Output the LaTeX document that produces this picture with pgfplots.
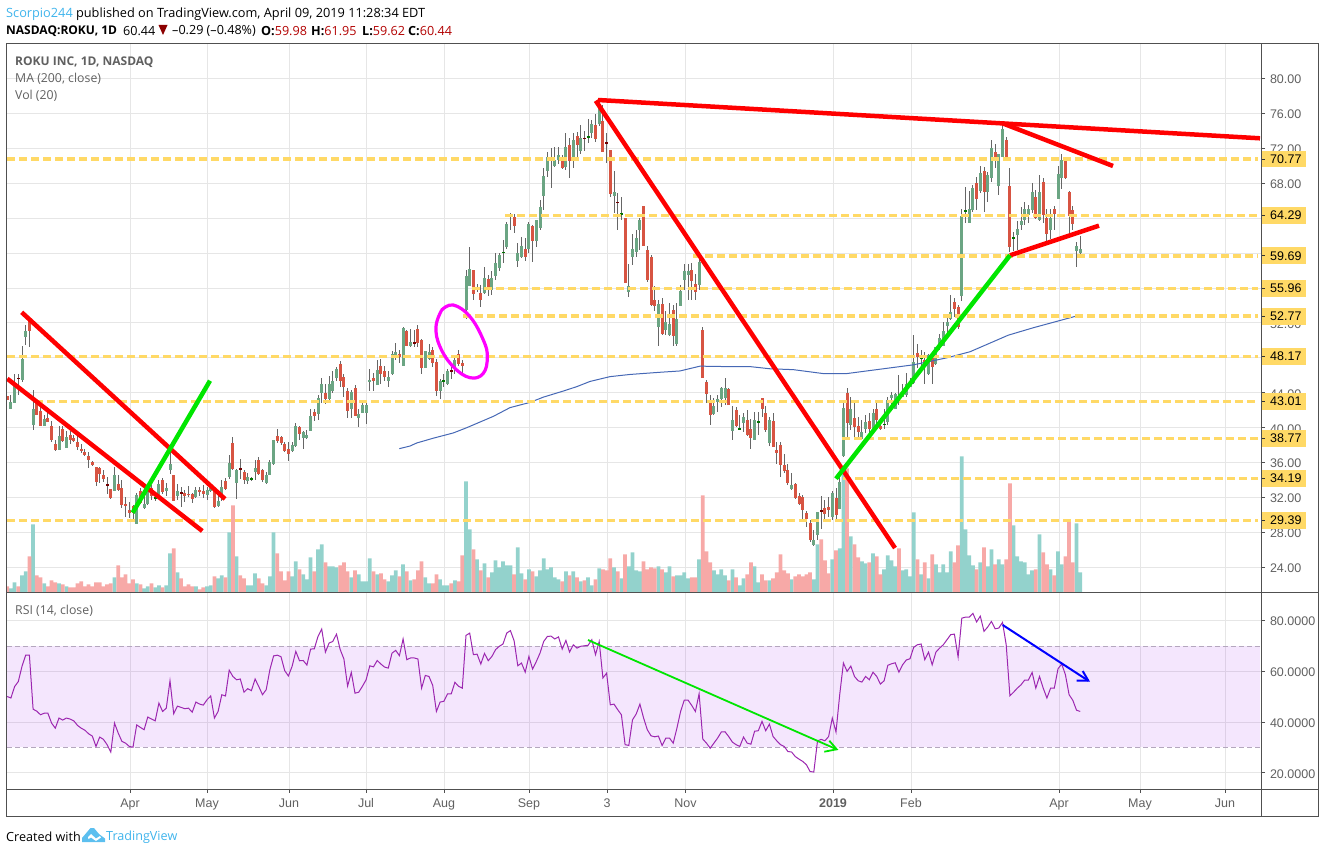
\documentclass[border=0pt]{standalone}
\usepackage{fontspec}
\usepackage{pgfplots}
\usepackage{pgfplotstable}
\pgfplotsset{compat=1.18}
\setmainfont{Liberation Sans}
\newfontfamily\ui{Open Sans}
\definecolor{gridc}{HTML}{E6E6E6}
\definecolor{framec}{HTML}{505050}
\definecolor{txtc}{HTML}{606060}
\definecolor{upc}{HTML}{6BA583}
\definecolor{dnc}{HTML}{D75442}
\definecolor{wick}{HTML}{666666}
\definecolor{upv}{HTML}{93D2CC}
\definecolor{dnv}{HTML}{F7A9A7}
\definecolor{yel}{HTML}{FFD966}
\definecolor{bandc}{rgb}{0.64,0.18,0.93}
\definecolor{rsic}{HTML}{9C27B0}
\definecolor{tvblue}{HTML}{3FB4EC}
\definecolor{mag}{HTML}{FF00FF}
\definecolor{pure red}{HTML}{FF0000}
\definecolor{pure green}{HTML}{00E600}
\definecolor{pure blue}{HTML}{0000FF}
\pgfplotstableread{
i o h l c v r
0 43.6 43.6 43.2 43.2 6 50.1
1 42.1 43.7 42.1 43.0 4 49.5
2 42.8 46.1 42.8 44.8 10 54
3 45.7 46.1 43.8 45.6 6 56
4 45.5 49.4 45.2 47.9 17 62
5 50.4 51.8 49.5 51.1 21 66.4
6 52.3 52.3 49.2 51.05 36 66.4
7 40.3 44.3 39.7 42.1 68 45.1
8 42.8 43.1 41.4 41.4 17 44.3
9 41.9 42.4 40.2 40.2 15 42.9
10 40.2 41.4 40.2 41.0 9 43.5
11 41.1 41.7 40.6 40.6 6 43.5
12 40.2 40.8 38.4 38.6 12 39.6
13 38.1 38.55 37.3 37.4 10 37.6
14 37.5 40.2 37.4 39 9 41.6
15 39.8 40.2 38.4 38.5 8 40.8
16 37.7 39.6 37.7 38.9 6 41.6
17 39.2 39.6 38.1 38.6 5 41.2
18 38.8 39.2 38.4 38.5 5 40.5
19 38.4 39.1 37.5 37.75 9 38.7
20 37.6 38.1 37.1 37.3 11 37.6
21 37.2 37.55 36.8 36.9 6 36.8
22 36.8 37.2 35.4 36.3 8 35.4
23 36.05 36.2 35.6 35.7 6 34.5
24 35.5 35.55 33.3 33.75 10 30.4
25 35.4 35.5 33.7 34.7 10 34.1
26 34.55 35.1 33.8 34.1 6 33.2
27 33.5 34.3 32.4 33.45 8 31.1
28 33 33 31.8 31.9 9 28.2
29 32.8 35.5 32.7 34.55 15 39.6
30 33.5 34.55 32.8 32.85 27 35.7
31 33.05 34 30.75 31.2 15 32.4
32 31.3 32.05 29.8 31 18 31.7
33 30.55 31.5 29.7 30.25 9 30.4
34 31 31.1 29.6 30.25 13 30.1
35 29 32.55 28.95 32.3 9 38.9
36 32.8 33.1 31.3 31.4 8 37.9
37 30.85 32.85 30.7 31.3 4 37
38 31.25 33.2 31.2 32.85 6 42
39 33.1 33.4 31.7 32.2 9 41.2
40 31.9 32.45 31.6 32 5 40.5
41 32.3 34 32.1 33.6 7 47.5
42 34 34.2 32.45 32.6 5 44.2
43 32.7 33.7 32.15 33.1 7 45.5
44 35.2 37.4 34.65 35.9 39 56.3
45 34.55 34.55 31.6 31.6 44 43.3
46 32.15 33.6 31.7 32.7 20 46.3
47 32.6 33.2 30.95 32.55 14 45.8
48 32.55 32.9 31.5 32.15 6 45.3
49 32.45 33.3 32.1 32.3 8 45.5
50 32.4 32.55 31.4 31.85 6 43.9
51 32.1 33.2 31.9 32.9 6 47.9
52 32.9 33.2 32.2 32.6 3 47.1
53 32.7 33.4 32 32.4 5 46.7
54 32.25 33.2 31.7 32.9 6 48.8
55 32.75 33.7 32.65 33.15 7 50.3
56 32.9 33 30.85 30.95 16 41.6
57 31 32.65 30.95 31.6 14 44.2
58 32.05 34 31.6 33.2 17 50.8
59 33.85 34.25 32.85 32.95 15 50.3
60 34.35 36.9 34.15 36 60 60.5
61 38.3 38.95 35.15 35.3 87 58
62 33.65 35.3 31.8 35.1 36 56.7
63 35.35 36.45 34.15 35.25 17 57
64 34.95 35.1 33.6 34 14 51.8
65 33.9 34.8 33.6 34.35 7 53.2
66 34.05 34.4 33.9 34.15 7 52.4
67 34.9 36.25 34 35.35 19 57
68 36.3 36.65 34.55 34.75 14 54
69 35.1 35.3 33.8 34 9 50.8
70 33.7 34.95 33.6 34.55 7 52.8
71 34.55 36.3 34.55 36.05 16 60.7
72 35.9 38.55 35.7 38.55 60 66.1
73 39.1 39.9 38.2 38.45 39 66.4
74 38.9 39.1 38 38.3 21 65.8
75 38.15 38.35 37.2 37.35 12 60.3
76 37.55 38.35 36.15 37 21 58.2
77 37.35 38.35 37.2 38 16 62
78 37.9 40.55 37.8 40.25 31 67.9
79 40.05 40.25 38.6 39.3 23 64.2
80 38.8 39.6 37.6 39.5 18 64.3
81 38.85 39.7 38.75 39.2 13 62.5
82 39.6 42.15 39.6 41.35 35 68.8
83 41.8 42.15 40.75 41.3 21 68.9
84 41.6 43.8 40.85 43.4 43 73.8
85 44 45.7 42.8 45 48 76.7
86 44 45 42.75 43.25 30 67.6
87 43.25 45.9 43.1 44.95 26 71.2
88 44.15 46.45 44 45.3 26 71.8
89 45.7 46.95 45.4 46.75 25 74.7
90 47.25 47.6 44.7 45.3 27 68.6
91 45.85 46.15 43.5 44.65 30 64.9
92 44.15 44.55 41.15 41.9 21 54.2
93 42.1 44.35 41.15 44.05 15 59.6
94 44.55 44.85 41.35 41.35 22 51.4
95 41.1 42.15 40.1 41.6 18 51.8
96 41.7 43.1 41.7 42.6 11 54.1
97 41.7 43.1 40.45 42.65 11 56.7
98 45.2 46.75 44.2 45.5 34 62.2
99 45.7 46.25 44.25 45.3 21 61.8
100 44.85 47.7 44.85 46.65 18 64.3
101 47.1 47.9 45 46.2 19 62.9
102 46.45 47.1 45.3 45.85 13 61.7
103 45.4 46.55 44.65 45.85 11 61.3
104 46.1 48.75 46 48.4 17 67.2
105 48.25 49.7 47.75 48.7 22 68.3
106 48.45 48.85 47.4 48.15 16 66.2
107 47.1 51.5 47.1 51.4 28 72.8
108 51.1 51.2 49.4 49.4 21 64.6
109 49.35 51.3 49.3 49.8 12 65.3
110 49.75 51.2 49.2 49.7 13 65.3
111 51.25 51.8 49.2 49.65 22 64.9
112 50 50.2 46.1 46.8 31 53.4
113 46.85 48.8 46.8 48.75 15 58.4
114 47.9 49.6 47.7 48.7 9 58
115 48.85 49.2 46.95 47.45 9 54.5
116 47.5 47.9 43.6 44.15 18 44.2
117 44.25 45.6 43.3 45.4 13 47.9
118 45.3 46.15 44.7 45.4 7 48.2
119 44.95 46.75 44.85 46.45 7 51.1
120 46.5 47.3 45.6 46.45 9 51.1
121 46.85 48.1 46.1 47.8 12 55.7
122 48.45 48.85 47.1 47.3 11 54.1
123 47.45 47.75 46.1 47.1 37 53.4
124 53.5 58.1 52.4 57.4 111 74.2
125 56.25 60.7 56.2 58.2 63 75.1
126 58.1 58.1 54.6 55.35 43 66.6
127 56 56.5 55.5 56.05 33 66.8
128 55.45 56.4 53.8 54.6 22 62.9
129 55.45 58.4 55.35 57.15 29 67.1
130 57.05 57.5 55.05 55.9 15 64.2
131 55.8 57.9 55.25 57.15 20 65.9
132 57.35 60 56.95 58.85 32 68.6
133 58.35 60 57.9 59.8 25 69.9
134 60.05 61.5 58.85 60.1 31 70.8
135 60.65 63.6 60.45 63.35 27 75.1
136 64.1 64.55 62.65 64.4 27 76.1
137 64.1 64.5 62.35 63.05 18 72.1
138 59.15 61.15 58.4 60 45 62.2
139 59.6 61.9 59.45 60.85 19 63.3
140 60.45 61.7 59.05 59.5 13 59.7
141 60.45 63.6 60 63.35 23 65.9
142 63.1 63.25 58.95 61.35 21 60.9
143 61.35 63.8 60.75 63.75 16 63.9
144 62.85 66.1 62.65 65.25 22 67.2
145 66.5 69.7 64.95 68.85 34 71.8
146 69.35 71.6 68.75 71.05 23 73.8
147 70.5 72 67.4 70.85 25 73.9
148 70 72.2 69.9 70.65 15 72.8
149 70.65 72.1 70.2 71.25 13 73.6
150 70.85 71.25 69.6 69.8 11 68.8
151 69.85 73.7 69.5 72.1 21 72.2
152 72.4 73.15 68.55 70.6 17 67.6
153 71.05 73.8 69.7 72.95 21 70.5
154 73.4 73.9 71.05 72.4 15 69.2
155 71.75 74.65 71.4 73.2 11 69.9
156 73.15 74 71.75 73.1 12 70.1
157 73.25 75.35 72.65 73.35 15 70.3
158 73.7 75.3 73.2 74.8 7 72.5
159 74.65 75.9 72.7 73.05 13 66.6
160 74.8 77.35 74.5 76.9 24 71.8
161 75.1 76.95 71.6 71.6 23 57.4
162 72.7 73.7 70.35 72.6 22 59.3
163 71.8 71.8 66.4 66.8 34 46.8
164 66.55 69.35 64.6 67 25 47.1
165 65.85 66.85 62.65 65.75 21 44.9
166 64.45 66.4 63.75 64.5 14 42.9
167 64 64 56.55 56.55 38 31.1
168 55.6 58.8 54.95 56.2 26 30.8
169 59.5 62.2 58.65 60.5 40 40.9
170 60.15 62.6 59.5 61.7 22 43.2
171 62.6 64 60.4 63.8 21 47.1
172 65.4 65.4 60.85 60.85 31 41.6
173 60.4 60.85 56.65 56.95 23 37
174 59.5 59.75 53.9 54.1 25 34.6
175 54.65 56.25 53.35 53.9 24 34.2
176 51.5 54.6 49.4 54.2 26 34.5
177 54.15 54.85 50.6 50.7 23 30.8
178 51.2 53.35 50.6 52.15 20 33.7
179 50.65 54.3 50.55 51.9 26 33.7
180 53.5 54 49.4 50.45 16 31.7
181 49.6 54.3 49.4 52.4 17 37.6
182 53.95 56.35 53.9 55.65 17 44.2
183 56.9 58.75 55.75 57.95 20 48.7
184 57.5 58.75 54.6 57.95 14 48.7
185 58.05 58.9 54.6 56.85 15 46.6
186 56.45 57.65 54.6 55.55 15 44.2
187 56.35 59.4 55.75 58.95 33 51.2
188 51.2 51.5 45.7 45.7 97 33.3
189 45.25 45.45 42.8 43.85 41 31.7
190 42.8 43.75 40.3 41.4 30 29.7
191 41.55 43.35 41.45 42.5 22 31.7
192 43 43.75 41.85 43.3 18 33.7
193 43.25 44.7 42.4 44.5 23 36.1
194 43.35 45.65 42.6 44.6 17 36.2
195 44.45 44.5 42.6 42.6 12 34.3
196 39.6 42.5 38.6 40.9 23 32.1
197 42 42.4 40.1 40.2 15 31.1
198 39.85 41.4 39.75 39.95 7 30.4
199 40.5 41.7 39.55 41.2 14 34.1
200 40.9 42 39.1 39.15 18 31.7
201 39.85 41.05 37.55 38.8 30 31.3
202 38.6 41.85 38.6 40.9 26 36.4
203 40.6 41.85 39.15 40.65 10 36.6
204 43.35 43.35 41.25 42.15 18 40.3
205 41.7 42.5 39.55 39.75 12 36.6
206 38.3 41.25 37.9 40.9 12 39.2
207 40.75 41.65 37.75 37.8 14 34.3
208 37.45 38.4 35.9 37.05 20 32.6
209 38 38.4 34.4 35.7 38 31.1
210 35.7 37 34.85 35.05 22 30.4
211 35.15 35.85 33.45 33.65 19 28.4
212 32.95 34.8 32.85 33.45 13 28.2
213 33.55 33.7 31.8 32 16 26.4
214 32.15 32.5 31.15 31.25 18 25.4
215 32.1 32.3 29.6 30.55 16 24.5
216 30.2 30.5 28.6 29.5 18 23.2
217 29.1 29.4 26.95 27.15 20 20.5
218 26.55 28.3 26.45 27.15 13 20.3
219 27.7 30.4 27.15 30.4 48 32.6
220 30.55 32.2 28.45 30.45 53 33.2
221 30.75 31.7 29.35 30.1 32 32.6
222 30.95 32.1 29.75 30.55 19 34.3
223 29.8 32.8 29.45 32.5 33 41.6
224 32 33.05 29.6 30 42 36.1
225 30.65 34.75 30.65 33.8 44 50.8
226 36.75 43.15 36.6 42.3 119 63.3
227 43.95 44.5 38.6 40.5 124 60
228 40.3 43.55 39.75 42.15 56 62.1
229 41.15 42.8 38.95 40.1 48 58
230 40.25 41.25 38.75 39.55 35 56.3
231 38.75 40.9 38.6 39.55 31 55.8
232 39.9 41.45 39.35 40.6 29 58
233 40.75 41.65 38.75 39.8 30 56.7
234 39.8 42.2 39.7 41.7 39 59.7
235 42.15 42.8 39.75 40.9 36 58
236 40.2 40.9 39.7 39.8 18 55
237 40.35 42.2 39.9 40.4 23 56.3
238 40.6 43.55 40.3 43.15 37 62.4
239 43.35 44.1 42.5 43.75 32 63
240 42.2 44 42.15 43.85 26 63.4
241 43.55 46 42.6 43.2 44 59.7
242 43.55 45.05 43.55 43.95 22 62.6
243 43.75 46.3 43.55 45 23 64.5
244 44.7 45.65 44.7 45.25 16 65
245 45.15 50.6 45.05 47.55 80 69.5
246 48.5 49.6 46.8 48.05 33 70.5
247 47.9 48.9 46.8 48 18 70.8
248 47.75 48.7 45 47.2 30 64.6
249 46.1 48.5 46 48.3 14 67.6
250 48.15 48.7 45.05 47 38 62.6
251 47.3 49.25 47.2 49.25 28 67.6
252 49.25 50.7 48.9 50.25 20 69.2
253 49.35 52.15 49.35 51.1 28 70.5
254 51.65 52.9 50.4 52.15 20 72.5
255 52.5 55.25 52.3 53.3 41 74.5
256 54.4 54.9 52.65 53.6 30 74.7
257 53.85 54.05 51.25 51.5 47 65.7
258 55.1 65 54.55 64.25 136 81
259 64.8 67.6 63.4 64.9 63 81.4
260 63.5 67.15 63.5 65.1 37 81.4
261 64.9 67.8 64.75 67.5 27 82.9
262 68 68.75 64.9 66.25 23 79.5
263 67.1 70 66.9 69.2 30 81.8
264 69.4 69.9 64.75 67 45 75.8
265 67 69.3 65.9 68.95 26 77.5
266 68.65 73 68.15 72 43 79.7
267 71.55 72.55 69.8 70.65 28 76.8
268 67.65 71.35 66.65 71.35 33 77.1
269 71.05 74.65 71.05 74.2 28 79.3
270 73 73.25 71.05 71.05 33 70.5
271 67.65 69.8 60.15 60.7 109 50.4
272 61.75 62.45 60.25 61.8 67 51.8
273 62.05 63.7 60.35 62.8 36 53.4
274 63.2 65.3 62.6 63.65 31 54.7
275 63.8 65.9 63.2 65 30 56.6
276 64.4 65.5 63.4 65 18 56.6
277 64.9 68.05 64.55 66.95 22 59.6
278 66.4 67.2 63.85 64 23 53.4
279 63.8 69 63.7 66.95 58 58
280 68.1 68.55 63.4 64.35 40 53.4
281 64 65 61.3 62.2 28 49.5
282 62.65 65 61.65 64 23 53.4
283 65 65.4 62.65 64.45 17 53.4
284 66.2 70 66.15 69.1 41 61
285 68.65 71.35 67.3 70.7 28 62.9
286 70.65 70.85 68.45 68.65 36 58.7
287 67 67.1 62.3 64.25 71 50.8
288 64.9 65.4 62.65 63.3 30 48.6
289 60.2 61.3 58.45 60.8 69 44.7
290 59.98 61.95 59.62 60.44 20 44.2
}\ohlc
\pgfplotstableread{
x p
399.3 37.6
410 37.9
416.7 38.25
433.3 38.8
453.3 39.4
466.7 40
480 40.65
493.3 41.3
510 42.3
530 42.9
543.3 43.5
563.3 44.2
576.7 44.7
590 45.3
610 45.85
630 46.1
660 46.35
680 46.5
700 47.05
726.7 47
750 47
770 46.75
793.3 46.65
823.3 46.2
846.7 46.2
873.3 46.6
913.3 47.2
946.7 48
970 48.7
1008.3 50.6
1033.3 51.45
1076.7 52.8
}\matable
\pgfplotsset{
 yl/.style={yel,line width=3.6pt,dash pattern=on 7.5pt off 4.5pt,forget plot},
 redl/.style={pure red,line width=4.5pt,forget plot},
 grnl/.style={pure green,line width=4.5pt,forget plot},
 chart/.style={
  scale only axis, width=1255pt, xmin=6.5, xmax=1261.5,
  axis line style={color=framec,line width=1pt},
  grid=major, grid style={color=gridc,line width=1pt},
  xtick={130,207,289,366,444,529,607,685.5,833,911,1059,1140,1225},
  ytick pos=right, yticklabel pos=right, xtick pos=bottom, tick align=outside,
  major tick length=3.5pt,
  tick style={color=framec,line width=1pt},
  scaled y ticks=false,
  yticklabel style={anchor=west,text=txtc,font=\fontsize{12.5}{14}\selectfont,xshift=1.5pt,yshift=-1pt},
 },
 upf/.style={restrict expr to domain={\thisrow{c}-\thisrow{o}}{0:1000}},
 dnf/.style={restrict expr to domain={\thisrow{c}-\thisrow{o}}{-1000:-0.00001}},
 wickbar/.style={only marks,mark size=0pt,mark options={draw=none,fill=none,opacity=0},forget plot,error bars/y dir=both,error bars/y explicit,error bars/error mark=none,
   error bars/error bar style={color=wick,line width=1pt,opacity=1}},
 bodybar/.style={only marks,mark size=0pt,mark options={draw=none,fill=none,opacity=0},forget plot,error bars/y dir=both,error bars/y explicit,error bars/error mark=none,
   error bars/error bar style={color=#1,line width=3pt,opacity=1}},
}
\begin{document}
\begin{tikzpicture}
\path[use as bounding box] (0,0) rectangle (1325pt,853pt);
% price and volume pane
\begin{axis}[chart, at={(6.5pt,260.7pt)}, anchor=south west, height=549pt,
  ymin=21.15, ymax=84.03, ytick={24,28,...,80},
  xticklabels={}, xtick style={draw=none},
  yticklabels={24.00,28.00,32.00,36.00,40.00,44.00,,52.00,,,,68.00,72.00,76.00,80.00}]
 \addplot[ybar,bar width=3.75pt,bar shift=0pt,fill=upv,draw=none,upf,forget plot]
   table[x expr={7.2+3.7*\thisrow{i}},y expr={21.15+\thisrow{v}/8.73}]{\ohlc};
 \addplot[ybar,bar width=3.75pt,bar shift=0pt,fill=dnv,draw=none,dnf,forget plot]
   table[x expr={7.2+3.7*\thisrow{i}},y expr={21.15+\thisrow{v}/8.73}]{\ohlc};
 \addplot[wickbar] table[x expr={7.2+3.7*\thisrow{i}},y expr={(\thisrow{h}+\thisrow{l})/2},y error expr={(\thisrow{h}-\thisrow{l})/2}]{\ohlc};
 \addplot[bodybar=upc,upf] table[x expr={7.2+3.7*\thisrow{i}},y expr={(\thisrow{o}+\thisrow{c})/2},y error expr={abs(\thisrow{o}-\thisrow{c})/2}]{\ohlc};
 \addplot[bodybar=dnc,dnf] table[x expr={7.2+3.7*\thisrow{i}},y expr={(\thisrow{o}+\thisrow{c})/2},y error expr={abs(\thisrow{o}-\thisrow{c})/2}]{\ohlc};
 \addplot[bodybar={green!45!black},restrict expr to domain={\thisrow{c}-\thisrow{o}}{0:0.12}] table[x expr={7.2+3.7*\thisrow{i}},y expr={(\thisrow{o}+\thisrow{c})/2},y error expr={0.1}]{\ohlc};
 \addplot[bodybar={red!45!black},restrict expr to domain={\thisrow{c}-\thisrow{o}}{-0.12:-0.00001}] table[x expr={7.2+3.7*\thisrow{i}},y expr={(\thisrow{o}+\thisrow{c})/2},y error expr={0.1}]{\ohlc};
 \addplot[color={rgb,255:red,70;green,104;blue,181},line width=1pt,forget plot] table[x=x,y=p]{\matable};
 \addplot[yl] coordinates {(7,70.77)(1258,70.77)};
 \addplot[yl] coordinates {(505,64.29)(1258,64.29)};
 \addplot[yl] coordinates {(693,59.69)(1258,59.69)};
 \addplot[yl] coordinates {(472,55.96)(1258,55.96)};
 \addplot[yl] coordinates {(463,52.77)(1258,52.77)};
 \addplot[yl] coordinates {(7,48.17)(1258,48.17)};
 \addplot[yl] coordinates {(35,43.01)(1258,43.01)};
 \addplot[yl] coordinates {(842,38.77)(1258,38.77)};
 \addplot[yl] coordinates {(843,34.19)(1258,34.19)};
 \addplot[yl] coordinates {(7,29.39)(1258,29.39)};
\end{axis}
% RSI pane
\begin{axis}[chart, at={(6.5pt,63.7pt)}, anchor=south west, height=197pt,
  ymin=13.5, ymax=91.2, ytick={20,40,60,80},
  xticklabels={Apr,May,Jun,Jul,Aug,Sep,3,Nov,\textbf{2019},Feb,Apr,May,Jun},
  xticklabel style={text=txtc,font=\fontsize{12.5}{14}\selectfont,yshift=-2.5pt},
  yticklabel style={/pgf/number format/fixed,/pgf/number format/fixed zerofill,/pgf/number format/precision=4,/pgf/number format/assume math mode=true}]
 \addplot[fill=bandc,fill opacity=.12,draw=none,forget plot] coordinates {(7,30)(1260,30)(1260,70)(7,70)} --cycle;
 \addplot[color={rgb,255:red,180;green,167;blue,190},line width=.9pt,dash pattern=on 5pt off 3pt,forget plot] coordinates {(7,70)(1260,70)};
 \addplot[color={rgb,255:red,180;green,167;blue,190},line width=.9pt,dash pattern=on 5pt off 3pt,forget plot] coordinates {(7,30)(1260,30)};
 \addplot[rsic,line width=1pt,forget plot] table[x expr={7.2+3.7*\thisrow{i}},y=r]{\ohlc};
\end{axis}
% annotations, page furniture, in reference pixel coordinates
\begin{axis}[at={(0pt,0pt)},anchor=south west,scale only axis,width=1325pt,height=853pt,
  xmin=0,xmax=1325,ymin=0,ymax=853,y dir=reverse,hide axis,clip=false]
 \addplot[redl] coordinates {(598,100)(1260,138.3)};
 \addplot[redl] coordinates {(595.7,100.7)(895,548)};
 \addplot[redl] coordinates {(1003,123.5)(1113,166)};
 \addplot[redl] coordinates {(1010,255.3)(1099,225.7)};
 \addplot[redl] coordinates {(21.7,312.3)(225,499)};
 \addplot[redl] coordinates {(7.3,378.7)(202.3,531)};
 \addplot[grnl] coordinates {(132.7,512.7)(210,380.7)};
 \addplot[grnl] coordinates {(836,478.7)(1010,255.3)};
 \addplot[mag,line width=3.2pt,smooth,tension=.7,forget plot] coordinates {(441.7,310)(453.3,305)(470,316.7)(483.3,340)(487.3,356.7)(483.3,373.3)(470,377.7)(453.3,366.7)(440,346.7)(436,326.7)(441.7,310)};
 \addplot[grnl,line width=1.8pt] coordinates {(588,640)(836.7,749.3)};
 \addplot[grnl,line width=1.8pt] coordinates {(829.3,740.7)(836.7,749.3)(824.3,751.7)};
 \addplot[pure blue,line width=2pt,forget plot] coordinates {(1002.7,625)(1088.3,680.7)};
 \addplot[pure blue,line width=2pt,forget plot] coordinates {(1082.7,671)(1088.3,680.7)(1076.7,680.7)};
 % frame
 \draw[framec,line width=1pt] (6.5,43.3) rectangle (1318,816);
 \draw[framec,line width=1pt] (1261.5,43.3) -- (1261.5,816);
 \draw[framec,line width=1pt] (6.5,592.3) -- (1318,592.3);
 \draw[framec,line width=1pt] (6.5,789.3) -- (1318,789.3);
 % level labels
 \fill[yel] (1261.9,150.7) rectangle (1306,167.5);
 \fill[yel] (1261.9,207.2) rectangle (1306,224);
 \fill[yel] (1261.9,247.4) rectangle (1306,264.2);
 \fill[yel] (1261.9,280) rectangle (1306,296.8);
 \fill[yel] (1261.9,307.8) rectangle (1306,324.6);
 \fill[yel] (1261.9,348) rectangle (1306,364.8);
 \fill[yel] (1261.9,393) rectangle (1306,409.8);
 \fill[yel] (1261.9,430) rectangle (1306,446.8);
 \fill[yel] (1261.9,470) rectangle (1306,486.8);
 \fill[yel] (1261.9,511.9) rectangle (1306,528.7);
 \draw[black!80,line width=1pt] (1262,159.1)--(1265,159.1) (1262,215.6)--(1265,215.6) (1262,255.8)--(1265,255.8) (1262,288.4)--(1265,288.4) (1262,316.2)--(1265,316.2) (1262,356.4)--(1265,356.4) (1262,401.4)--(1265,401.4) (1262,438.4)--(1265,438.4) (1262,478.4)--(1265,478.4) (1262,520.3)--(1265,520.3);
 \node[anchor=west,inner sep=0pt,font=\fontsize{12.5}{14}\selectfont] at (1270,159.1) {70.77};
 \node[anchor=west,inner sep=0pt,font=\fontsize{12.5}{14}\selectfont] at (1270,215.6) {64.29};
 \node[anchor=west,inner sep=0pt,font=\fontsize{12.5}{14}\selectfont] at (1270,255.8) {59.69};
 \node[anchor=west,inner sep=0pt,font=\fontsize{12.5}{14}\selectfont] at (1270,288.4) {55.96};
 \node[anchor=west,inner sep=0pt,font=\fontsize{12.5}{14}\selectfont] at (1270,316.2) {52.77};
 \node[anchor=west,inner sep=0pt,font=\fontsize{12.5}{14}\selectfont] at (1270,356.4) {48.17};
 \node[anchor=west,inner sep=0pt,font=\fontsize{12.5}{14}\selectfont] at (1270,401.4) {43.01};
 \node[anchor=west,inner sep=0pt,font=\fontsize{12.5}{14}\selectfont] at (1270,438.4) {38.77};
 \node[anchor=west,inner sep=0pt,font=\fontsize{12.5}{14}\selectfont] at (1270,478.4) {34.19};
 \node[anchor=west,inner sep=0pt,font=\fontsize{12.5}{14}\selectfont] at (1270,520.3) {29.39};
 % header
 \node[anchor=west,inner sep=0pt,font=\ui\fontsize{12.75}{15}\selectfont] at (6,14) {\textcolor{tvblue}{Scorpio244} published on TradingView.com, April 09, 2019 11:28:34 EDT};
 \node[anchor=west,inner sep=0pt,font=\ui\bfseries\fontsize{12}{15}\selectfont] at (6,31) {NASDAQ:ROKU, 1D};
 \node[anchor=west,inner sep=0pt,font=\ui\fontsize{12.6}{15}\selectfont] at (123,31) {60.44};
 \fill[red!55!black] (158.5,25) -- (167.5,25) -- (163,35) -- cycle;
 \node[anchor=west,inner sep=0pt,font=\ui\fontsize{12.6}{15}\selectfont] at (172,31) {\textendash 0.29 (\textendash 0.48\%)};
 \node[anchor=west,inner sep=0pt,font=\ui\fontsize{12.6}{15}\selectfont] at (261,31) {\textbf{O:}\textcolor{red!70!black}{59.98}};
 \node[anchor=west,inner sep=0pt,font=\ui\fontsize{12.6}{15}\selectfont] at (311,31) {\textbf{H:}\textcolor{red!70!black}{61.95}};
 \node[anchor=west,inner sep=0pt,font=\ui\fontsize{12.6}{15}\selectfont] at (362,31) {\textbf{L:}\textcolor{red!70!black}{59.62}};
 \node[anchor=west,inner sep=0pt,font=\ui\fontsize{12.6}{15}\selectfont] at (408,31) {\textbf{C:}\textcolor{red!70!black}{60.44}};
 % legends
 \node[anchor=west,inner sep=0pt,text=txtc,font=\ui\bfseries\fontsize{12}{15}\selectfont] at (15,62) {ROKU INC, 1D, NASDAQ};
 \node[anchor=west,inner sep=0pt,text=txtc,font=\ui\fontsize{12.3}{15}\selectfont] at (15,79) {MA (200, close)};
 \node[anchor=west,inner sep=0pt,text=txtc,font=\ui\fontsize{12.3}{15}\selectfont] at (15,96) {Vol (20)};
 \node[anchor=west,inner sep=0pt,text=txtc,font=\ui\fontsize{12.3}{15}\selectfont] at (15,611) {RSI (14, close)};
 % footer
 \node[anchor=west,inner sep=0pt,font=\ui\fontsize{12.6}{15}\selectfont] at (6,837) {Created with};
 \fill[tvblue!85] (82,842) -- (82,838) -- (90.5,828) -- (94,828) -- (99,834) -- (105,838.5) -- (105,842) -- cycle;
 \fill[white] (88,837) -- (91,834) -- (96,838.5) -- (100,836) -- (101,837.5) -- (96,841) -- (91,837.5) -- (88.5,839) -- cycle;
 \node[anchor=west,inner sep=0pt,text=tvblue,font=\ui\fontsize{12.6}{15}\selectfont] at (106,837) {TradingView};
\end{axis}
\end{tikzpicture}
\end{document}
